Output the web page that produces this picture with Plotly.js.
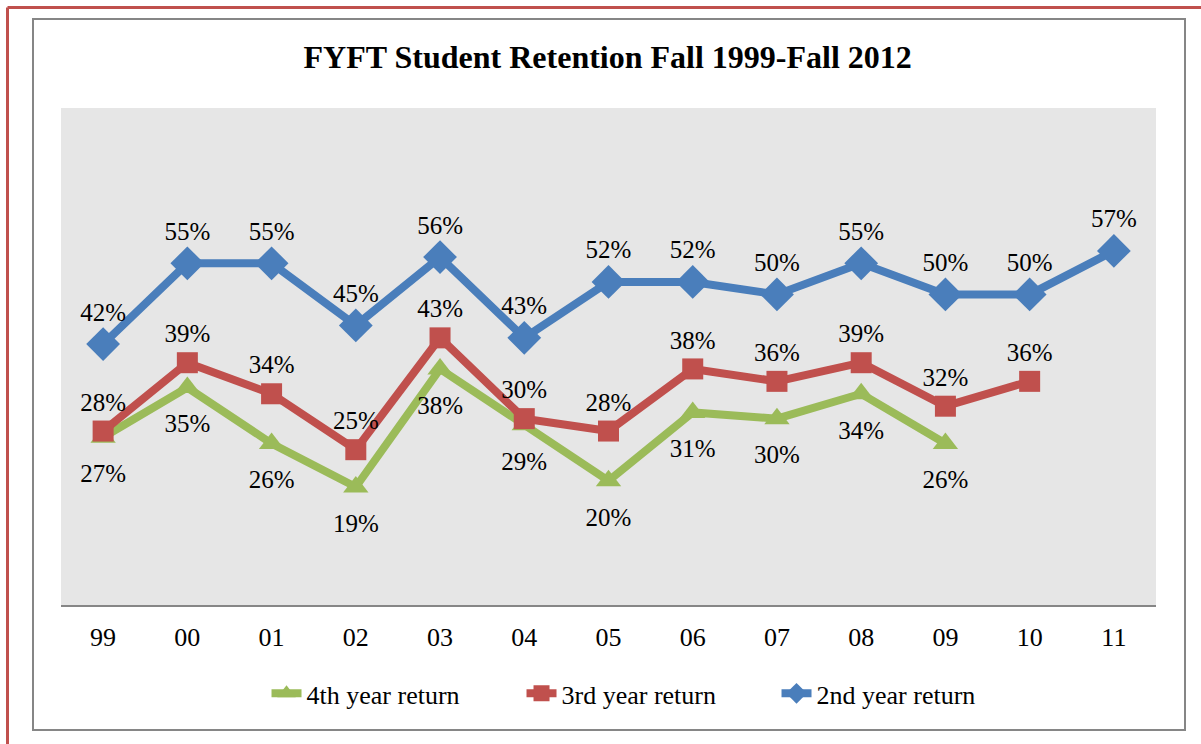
<!DOCTYPE html>
<html>
<head>
<meta charset="utf-8">
<script src="https://cdn.plot.ly/plotly-3.0.1.min.js"></script>
<style>html,body{margin:0;padding:0;background:#fff;}</style>
</head>
<body>
<div id="chart" style="width:1201px;height:744px"></div>
<script>
const years = ["99","00","01","02","03","04","05","06","07","08","09","10","11"];
const secondYear = [42,55,55,45,56,43,52,52,50,55,50,50,57];
const thirdYear  = [28,39,34,25,43,30,28,38,36,39,32,36,null];
const fourthYear = [27,35,26,19,38,29,20,31,30,34,26,null,null];

function labels(arr){ return arr.map(v => v==null ? "" : v + "%"); }
function frac(arr){ return arr.map(v => v==null ? null : v/100); }

const SERIF = "Liberation Serif";
const labelFont = {family:SERIF, size:25, color:"#000"};

const traces = [
  {
    name:"4th year return", x:years, y:frac(fourthYear), type:"scatter", mode:"lines+markers",
    line:{color:"#9bbb59", width:8}, marker:{symbol:"triangle-up", size:22, color:"#9bbb59"},
    cliponaxis:false
  },
  {
    name:"3rd year return", x:years, y:frac(thirdYear), type:"scatter", mode:"lines+markers+text",
    text:labels(thirdYear), textposition:"top center", textfont:labelFont,
    line:{color:"#c0504d", width:8}, marker:{symbol:"square", size:21, color:"#c0504d"},
    cliponaxis:false
  },
  {
    name:"2nd year return", x:years, y:frac(secondYear), type:"scatter", mode:"lines+markers+text",
    text:labels(secondYear), textposition:"top center", textfont:labelFont,
    line:{color:"#4a7ebb", width:8}, marker:{symbol:"diamond", size:26, color:"#4a7ebb"},
    cliponaxis:false
  },
  {
    name:"4th year labels", x:years, y:frac(fourthYear), type:"scatter", mode:"markers+text",
    text:labels(fourthYear), textposition:"bottom center", textfont:labelFont,
    marker:{size:40, color:"rgba(0,0,0,0)"}, showlegend:false, cliponaxis:false
  }
];

const W=1201, H=744, l=61, r=45, t=108, b=139;
const pw=W-l-r, ph=H-t-b;
function px(x){ return (x-l)/pw; }
function py(y){ return (H-b-y)/ph; }

const layout = {
  width:W, height:H,
  font:{family:SERIF, size:25, color:"#000"},
  paper_bgcolor:"#ffffff", plot_bgcolor:"#e6e6e6",
  margin:{l:l, r:r, t:t, b:b},
  title:{text:"<b>FYFT Student Retention Fall 1999-Fall 2012</b>", x:0.506, xanchor:"center", y:0.923, yanchor:"middle",
         font:{family:SERIF, size:32, color:"#000"}},
  xaxis:{type:"category", range:[-0.5,12.5], showgrid:false, zeroline:false, showline:true,
         linecolor:"#868686", linewidth:2, ticks:"", ticklabelstandoff:8,
         tickfont:{family:SERIF, size:26, color:"#000"}, fixedrange:true},
  yaxis:{range:[0,0.8], showgrid:false, zeroline:false, showline:false, showticklabels:false, ticks:"", fixedrange:true},
  showlegend:true,
  legend:{orientation:"h", x:0.537, xanchor:"center", y:-0.178, yanchor:"middle",
          font:{family:SERIF, size:26, color:"#000"},
          traceorder:"normal", entrywidth:210, entrywidthmode:"pixels", bgcolor:"rgba(0,0,0,0)"},
  shapes:[
    {type:"rect", xref:"paper", yref:"paper", x0:px(33), x1:px(1185), y0:py(730), y1:py(19),
     line:{color:"#868686", width:2}, fillcolor:"rgba(0,0,0,0)", layer:"below"},
    {type:"line", xref:"paper", yref:"paper", x0:px(7.5), x1:px(1210), y0:py(7.5), y1:py(7.5),
     line:{color:"#c0504d", width:3}},
    {type:"line", xref:"paper", yref:"paper", x0:px(7.5), x1:px(7.5), y0:py(7.5), y1:py(760),
     line:{color:"#c0504d", width:3}}
  ]
};

Plotly.newPlot("chart", traces, layout, {displayModeBar:false});
</script>
</body>
</html>
